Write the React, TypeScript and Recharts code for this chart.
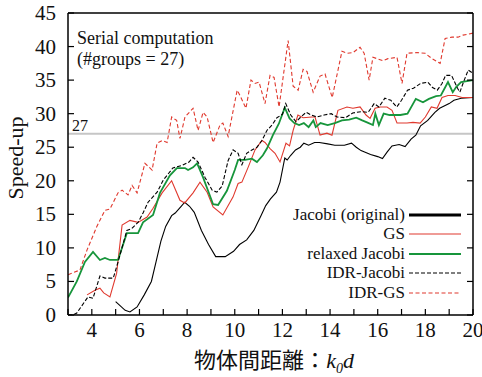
import React from "react";
import { LineChart, Line, XAxis, YAxis, ReferenceLine, Legend } from "recharts";

// Jacobi (original)
const jacobiX = [5.0, 5.4, 5.6, 5.9, 6.2, 6.5, 6.7, 6.9, 7.1, 7.35, 7.5, 7.75, 7.9, 8.1, 8.3, 8.6, 8.9, 9.2, 9.6, 9.95, 10.2, 10.5, 10.8, 11.1, 11.3, 11.5, 11.75, 11.9, 12.1, 12.2, 12.35, 12.55, 12.75, 12.9, 13.1, 13.35, 13.55, 13.9, 14.2, 14.6, 14.9, 15.1, 15.3, 15.7, 16.0, 16.2, 16.4, 16.6, 16.9, 17.15, 17.4, 17.6, 17.8, 18.1, 18.4, 18.6, 19.0, 19.2, 19.5, 20.0];
const jacobiY = [2.0, 0.7, 0.45, 1.2, 3.0, 5.0, 8.0, 11.0, 13.2, 14.8, 15.2, 16.2, 16.8, 16.2, 15.3, 12.6, 10.5, 8.7, 8.7, 9.5, 10.5, 11.2, 12.6, 14.8, 16.3, 17.3, 18.3, 19.8, 23.4, 23.1, 23.8, 24.6, 25.0, 25.6, 25.3, 25.7, 25.7, 25.5, 25.3, 25.3, 25.6, 25.0, 24.5, 23.9, 23.6, 23.3, 24.3, 25.2, 25.4, 25.1, 26.2, 26.8, 28.2, 29.0, 30.2, 30.8, 31.5, 32.0, 32.3, 32.4];

// GS
const gsX = [3.8, 4.13, 4.34, 4.5, 4.76, 5.04, 5.27, 5.6, 5.94, 6.32, 6.57, 6.95, 7.35, 7.7, 7.9, 8.25, 8.54, 8.84, 9.09, 9.5, 9.93, 10.14, 10.3, 10.56, 10.85, 11.14, 11.27, 11.48, 11.69, 11.9, 12.15, 12.3, 12.45, 12.65, 12.87, 13.24, 13.37, 13.58, 13.87, 14.08, 14.33, 14.71, 14.96, 15.26, 15.51, 15.68, 15.89, 16.1, 16.39, 16.6, 16.81, 17.23, 17.48, 17.78, 18.0, 18.25, 18.49, 18.7, 18.95, 19.25, 19.54, 20.0];
const gsY = [3.0, 3.7, 4.0, 3.3, 2.7, 6.2, 13.4, 14.1, 13.8, 14.6, 15.9, 18.2, 20.0, 17.1, 16.7, 18.2, 19.8, 18.3, 16.1, 14.9, 17.6, 19.6, 19.8, 22.0, 24.6, 26.0, 25.7, 24.8, 24.1, 22.8, 25.6, 25.2, 27.5, 29.8, 29.4, 29.5, 29.5, 26.8, 27.1, 26.8, 30.5, 31.0, 30.8, 31.0, 29.8, 29.3, 30.8, 31.0, 31.0, 30.5, 28.6, 28.6, 28.7, 28.6, 29.5, 31.0, 30.8, 32.4, 32.7, 32.7, 32.4, 32.4];

// relaxed Jacobi
const relaxedX = [3.0, 3.37, 3.71, 4.05, 4.34, 4.55, 4.76, 5.1, 5.47, 5.94, 6.15, 6.57, 6.86, 7.28, 7.57, 7.91, 8.04, 8.25, 8.42, 8.67, 9.09, 9.3, 9.67, 10.0, 10.14, 10.43, 10.72, 10.93, 11.18, 11.35, 11.6, 11.85, 12.1, 12.3, 12.5, 12.7, 12.9, 13.1, 13.3, 13.4, 13.6, 13.9, 14.2, 14.5, 14.8, 15.1, 15.35, 15.55, 15.8, 15.9, 16.05, 16.25, 16.5, 16.95, 17.25, 17.6, 17.9, 18.15, 18.45, 18.65, 18.95, 19.15, 19.3, 19.5, 20.0];
const relaxedY = [2.6, 5.0, 7.9, 9.4, 8.2, 8.5, 8.2, 8.2, 12.2, 12.2, 13.8, 14.9, 18.2, 20.8, 21.9, 21.9, 21.6, 22.0, 22.6, 20.5, 16.5, 16.4, 18.5, 21.6, 23.1, 23.1, 23.3, 22.8, 23.8, 24.8, 26.8, 28.5, 30.9, 29.3, 28.6, 28.3, 28.6, 28.0, 29.0, 28.0, 28.6, 28.3, 28.6, 29.0, 29.1, 29.4, 29.0, 28.7, 28.3, 30.0, 28.3, 30.0, 29.8, 29.8, 30.0, 32.2, 31.7, 32.2, 32.6, 32.7, 34.7, 33.2, 34.0, 34.7, 35.0];

// IDR-Jacobi
const idrJacobiX = [3.0, 3.2, 3.37, 3.84, 4.05, 4.2, 4.34, 4.55, 4.9, 5.1, 5.47, 5.68, 5.94, 6.15, 6.36, 6.74, 7.0, 7.4, 7.8, 8.08, 8.25, 8.46, 8.75, 9.05, 9.25, 9.47, 9.72, 9.93, 10.14, 10.3, 10.5, 10.72, 10.93, 11.14, 11.35, 11.56, 11.77, 12.0, 12.14, 12.35, 12.57, 12.8, 13.0, 13.2, 13.45, 13.75, 14.05, 14.3, 14.65, 14.95, 15.3, 15.6, 15.85, 16.05, 16.3, 16.55, 16.8, 17.0, 17.25, 17.5, 17.8, 18.1, 18.3, 18.5, 18.7, 18.85, 19.1, 19.35, 19.45, 19.6, 19.8, 20.0];
const idrJacobiY = [0.0, 0.0, 0.3, 2.7, 2.5, 4.2, 5.8, 5.5, 5.5, 7.9, 12.6, 12.9, 13.8, 15.2, 16.8, 18.3, 20.1, 21.9, 22.3, 22.8, 23.5, 22.8, 20.5, 18.6, 18.3, 19.2, 23.0, 24.6, 24.1, 22.4, 24.1, 24.6, 25.0, 26.0, 27.5, 28.3, 29.4, 29.9, 31.5, 29.8, 28.8, 29.6, 30.2, 29.8, 29.5, 29.8, 30.0, 29.5, 29.4, 30.1, 30.3, 30.2, 31.5, 31.0, 32.3, 32.0, 31.0, 32.0, 33.5, 33.8, 34.5, 34.7, 33.9, 33.5, 34.5, 35.7, 35.7, 33.8, 33.2, 34.7, 36.5, 36.0];

// IDR-GS
const idrGsX = [3.0, 3.5, 3.8, 4.2, 4.55, 4.76, 5.1, 5.27, 5.52, 5.69, 5.9, 6.23, 6.53, 6.74, 6.95, 7.16, 7.35, 7.56, 7.7, 7.91, 8.25, 8.46, 8.67, 8.84, 9.09, 9.38, 9.5, 9.72, 10.1, 10.22, 10.47, 10.68, 10.85, 11.02, 11.27, 11.48, 11.65, 11.86, 12.24, 12.45, 12.66, 12.87, 13.03, 13.29, 13.58, 13.79, 14.09, 14.5, 14.71, 14.96, 15.26, 15.43, 15.64, 15.8, 16.22, 16.43, 16.81, 17.02, 17.23, 17.65, 17.99, 18.28, 18.62, 18.83, 19.12, 19.37, 19.58, 20.0];
const idrGsY = [6.0, 6.7, 9.7, 13.1, 15.6, 15.8, 18.2, 18.6, 17.9, 19.3, 18.2, 22.6, 21.6, 25.6, 26.0, 25.7, 29.5, 29.0, 26.3, 29.5, 30.8, 27.5, 30.2, 29.5, 25.7, 28.3, 28.6, 26.6, 33.5, 32.7, 30.8, 35.0, 34.5, 34.7, 31.5, 35.7, 35.4, 31.0, 40.9, 34.1, 33.5, 36.6, 36.3, 33.2, 35.6, 35.9, 32.4, 39.3, 39.0, 39.1, 39.9, 39.0, 35.0, 38.4, 37.9, 38.2, 38.4, 34.5, 39.0, 39.1, 39.0, 38.2, 37.5, 41.2, 41.4, 41.4, 41.7, 42.0];

const xTicks = [3, 4, 5, 6, 7, 8, 9, 10, 11, 12, 13, 14, 15, 16, 17, 18, 19, 20];
const yTicks = [0, 5, 10, 15, 20, 25, 30, 35, 40, 45];

const toPoints = (xs: number[], ys: number[]) => xs.map((x, i) => ({ x, y: ys[i] }));

const RED = "#e0392e";
const GREEN = "#17953b";
const SERIF = "Liberation Serif";

const series = [
  { name: "Jacobi (original)", data: toPoints(jacobiX, jacobiY), color: "#000", width: 1.1, dash: undefined, legendWidth: 3 },
  { name: "GS", data: toPoints(gsX, gsY), color: RED, width: 1.1, dash: undefined, legendWidth: 1.1 },
  { name: "relaxed Jacobi", data: toPoints(relaxedX, relaxedY), color: GREEN, width: 1.8, dash: undefined, legendWidth: 2.2 },
  { name: "IDR-Jacobi", data: toPoints(idrJacobiX, idrJacobiY), color: "#000", width: 1.1, dash: "4 2", legendWidth: 1.2 },
  { name: "IDR-GS", data: toPoints(idrGsX, idrGsY), color: RED, width: 1.1, dash: "4 2.5", legendWidth: 1.2 },
];

const BottomTick = (props: any) => {
  const { x, y, payload } = props;
  const v = payload.value;
  return (
    <g>
      <line x1={x} x2={x} y1={y} y2={y - 6} stroke="#000" strokeWidth={1.2} />
      {v % 2 === 0 && (
        <text x={x} y={y + 22} textAnchor="middle" fontFamily={SERIF} fontSize={21} fill="#111">
          {v}
        </text>
      )}
    </g>
  );
};

const TopTick = (props: any) => {
  const { x, y } = props;
  return <line x1={x} x2={x} y1={y} y2={y + 6} stroke="#000" strokeWidth={1.2} />;
};

const LeftTick = (props: any) => {
  const { x, y, payload } = props;
  return (
    <g>
      <line x1={x} x2={x + 6} y1={y} y2={y} stroke="#000" strokeWidth={1.2} />
      <text x={x - 12} y={y + 7} textAnchor="end" fontFamily={SERIF} fontSize={21} fill="#111">
        {payload.value}
      </text>
    </g>
  );
};

const RightTick = (props: any) => {
  const { x, y } = props;
  return <line x1={x} x2={x - 6} y1={y} y2={y} stroke="#000" strokeWidth={1.2} />;
};

const LegendBox = () => (
  <div lang="en" style={{ fontFamily: SERIF, fontSize: 17, color: "#111" }}>
    {series.map((s) => (
      <div key={s.name} style={{ display: "flex", alignItems: "center", height: 19.5 }}>
        <span style={{ width: 115, textAlign: "right", whiteSpace: "nowrap" }}>{s.name}</span>
        <svg width={56} height={10} style={{ marginLeft: 4 }}>
          <line x1={0} x2={52} y1={5} y2={5} stroke={s.color} strokeWidth={s.legendWidth} strokeDasharray={s.dash} />
        </svg>
      </div>
    ))}
  </div>
);

export default function App() {
  return (
    <div lang="en" style={{ position: "absolute", left: 0, top: 0, width: 482, height: 377, background: "#fff" }}>
      <LineChart width={482} height={377} margin={{ top: 0, right: 0, bottom: 0, left: 0 }}>
        <XAxis
          dataKey="x"
          type="number"
          domain={[3, 20]}
          ticks={xTicks}
          interval={0}
          height={62}
          tickSize={0}
          tickMargin={0}
          tick={<BottomTick />}
          axisLine={{ stroke: "#000", strokeWidth: 1.5 }}
          allowDataOverflow
        />
        <XAxis
          xAxisId="top"
          orientation="top"
          type="number"
          domain={[3, 20]}
          ticks={xTicks}
          interval={0}
          height={13}
          tickSize={0}
          tickMargin={0}
          tick={<TopTick />}
          axisLine={{ stroke: "#000", strokeWidth: 1.5 }}
          allowDataOverflow
        />
        <YAxis
          type="number"
          domain={[0, 45]}
          ticks={yTicks}
          interval={0}
          width={68}
          tickSize={0}
          tickMargin={0}
          tick={<LeftTick />}
          axisLine={{ stroke: "#000", strokeWidth: 1.5 }}
          allowDataOverflow
        />
        <YAxis
          yAxisId="right"
          orientation="right"
          type="number"
          domain={[0, 45]}
          ticks={yTicks}
          interval={0}
          width={9}
          tickSize={0}
          tickMargin={0}
          tick={<RightTick />}
          axisLine={{ stroke: "#000", strokeWidth: 1.5 }}
          allowDataOverflow
        />
        <ReferenceLine
          y={27}
          stroke="#c6c6c6"
          strokeWidth={2}
          label={(p: any) => (
            <text x={p.viewBox.x + 4} y={p.viewBox.y - 3} fontFamily={SERIF} fontSize={16} fill="#111">
              27
            </text>
          )}
        />
        {series.map((s) => (
          <Line
            key={s.name}
            data={s.data}
            dataKey="y"
            name={s.name}
            type="linear"
            stroke={s.color}
            strokeWidth={s.width}
            strokeDasharray={s.dash}
            dot={false}
            isAnimationActive={false}
          />
        ))}
        <Legend
          layout="vertical"
          align="center"
          verticalAlign="middle"
          content={<LegendBox />}
          wrapperStyle={{ left: 290, top: 205, width: 180 }}
        />
      </LineChart>

      <div lang="en" style={{ position: "absolute", left: 77, top: 28, fontFamily: SERIF, fontSize: 18, lineHeight: "21px", color: "#111", whiteSpace: "nowrap" }}>
        Serial computation
        <br />
        (#groups = 27)
      </div>

      <div
        lang="en"
        style={{
          position: "absolute",
          left: 16,
          top: 158,
          transform: "translate(-50%, -50%) rotate(-90deg)",
          fontFamily: SERIF,
          fontSize: 22,
          color: "#111",
          whiteSpace: "nowrap",
        }}
      >
        Speed-up
      </div>

      <div
        style={{
          position: "absolute",
          left: 274,
          top: 359,
          transform: "translate(-50%, -50%)",
          fontSize: 22,
          color: "#111",
          whiteSpace: "nowrap",
          lineHeight: "22px",
        }}
      >
        <span lang="ja" style={{ fontFamily: "Noto Sans CJK JP" }}>物体間距離：</span>
        <span lang="en" style={{ fontFamily: SERIF, fontStyle: "italic" }}>
          k<sub style={{ fontSize: 14, lineHeight: 0 }}>0</sub>d
        </span>
      </div>
    </div>
  );
}
